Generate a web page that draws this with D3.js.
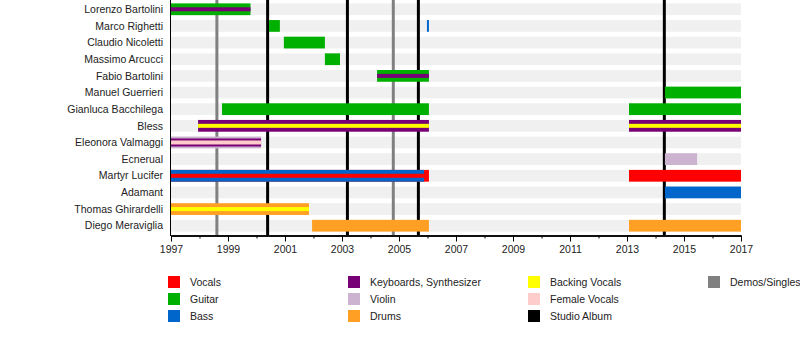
<!DOCTYPE html>
<html lang="en">
<head>
    <meta charset="UTF-8">
    <title>Band members timeline</title>
    <script src="https://d3js.org/d3.v7.min.js"></script>
    <style>
        body {
            margin: 0;
            padding: 0;
            background: #fff;
        }
        svg {
            display: block;
            font-family: "Liberation Sans", Arial, sans-serif;
        }
        .name {
            font-size: 10.5px;
            fill: #222;
            text-anchor: end;
        }
        .axis text {
            font-size: 10.5px;
            fill: #222;
        }
        .legend text {
            font-size: 10.5px;
            fill: #222;
        }
    </style>
</head>
<body>
    <svg id="chart" width="800" height="354"></svg>

    <script>
        const members = [
            "Lorenzo Bartolini", "Marco Righetti", "Claudio Nicoletti", "Massimo Arcucci",
            "Fabio Bartolini", "Manuel Guerrieri", "Gianluca Bacchilega", "Bless",
            "Eleonora Valmaggi", "Ecnerual", "Martyr Lucifer", "Adamant",
            "Thomas Ghirardelli", "Diego Meraviglia"
        ];

        const roles = [
            "Vocals", "Guitar", "Bass",
            "Keyboards, Synthesizer", "Violin", "Drums",
            "Backing Vocals", "Female Vocals", "Studio Album",
            "Demos/Singles"
        ];

        // layer: "bar" = full row, "mid" = narrower overlay, "stripe" = thin overlay
        const segments = [
            { member: "Lorenzo Bartolini", role: "Guitar", start: 1997, end: 1999.79, layer: "bar" },
            { member: "Lorenzo Bartolini", role: "Keyboards, Synthesizer", start: 1997, end: 1999.79, layer: "stripe" },
            { member: "Marco Righetti", role: "Guitar", start: 2000.44, end: 2000.82, layer: "bar" },
            { member: "Marco Righetti", role: "Bass", start: 2005.98, end: 2006.05, layer: "bar" },
            { member: "Claudio Nicoletti", role: "Guitar", start: 2000.96, end: 2002.4, layer: "bar" },
            { member: "Massimo Arcucci", role: "Guitar", start: 2002.4, end: 2002.93, layer: "bar" },
            { member: "Fabio Bartolini", role: "Guitar", start: 2004.23, end: 2006.05, layer: "bar" },
            { member: "Fabio Bartolini", role: "Keyboards, Synthesizer", start: 2004.23, end: 2006.05, layer: "stripe" },
            { member: "Manuel Guerrieri", role: "Guitar", start: 2014.33, end: 2017, layer: "bar" },
            { member: "Gianluca Bacchilega", role: "Guitar", start: 1998.79, end: 2006.05, layer: "bar" },
            { member: "Gianluca Bacchilega", role: "Guitar", start: 2013.07, end: 2017, layer: "bar" },
            { member: "Bless", role: "Keyboards, Synthesizer", start: 1997.95, end: 2006.05, layer: "bar" },
            { member: "Bless", role: "Backing Vocals", start: 1997.95, end: 2006.05, layer: "stripe" },
            { member: "Bless", role: "Keyboards, Synthesizer", start: 2013.07, end: 2017, layer: "bar" },
            { member: "Bless", role: "Backing Vocals", start: 2013.07, end: 2017, layer: "stripe" },
            { member: "Eleonora Valmaggi", role: "Violin", start: 1997, end: 2000.16, layer: "bar" },
            { member: "Eleonora Valmaggi", role: "Keyboards, Synthesizer", start: 1997, end: 2000.16, layer: "mid" },
            { member: "Eleonora Valmaggi", role: "Female Vocals", start: 1997, end: 2000.16, layer: "stripe" },
            { member: "Ecnerual", role: "Violin", start: 2014.33, end: 2015.46, layer: "bar" },
            { member: "Martyr Lucifer", role: "Vocals", start: 1997, end: 2006.05, layer: "bar" },
            { member: "Martyr Lucifer", role: "Bass", start: 1997, end: 2005.88, layer: "bar" },
            { member: "Martyr Lucifer", role: "Vocals", start: 1997, end: 2005.88, layer: "stripe" },
            { member: "Martyr Lucifer", role: "Vocals", start: 2013.07, end: 2017, layer: "bar" },
            { member: "Adamant", role: "Bass", start: 2014.33, end: 2017, layer: "bar" },
            { member: "Thomas Ghirardelli", role: "Drums", start: 1997, end: 2001.84, layer: "bar" },
            { member: "Thomas Ghirardelli", role: "Backing Vocals", start: 1997, end: 2001.84, layer: "stripe" },
            { member: "Diego Meraviglia", role: "Drums", start: 2001.95, end: 2006.05, layer: "bar" },
            { member: "Diego Meraviglia", role: "Drums", start: 2013.07, end: 2017, layer: "bar" }
        ];

        const studioAlbums = [2000.39, 2003.19, 2005.68, 2014.31];
        const demos = [1998.61, 2004.8];

        const years = d3.range(1997, 2018);

        const color = d3.scaleOrdinal()
            .domain(roles)
            .range(["#ff0000", "#00b000", "#0066cc", "#770077", "#ccb3d0", "#ffa024",
                    "#ffff00", "#ffcccc", "#000000", "#808080"]);

        const svg = d3.select("#chart");

        const x = d3.scaleLinear().domain([1997, 2017]).range([171, 741]);
        const y = d3.scaleBand().domain(members).range([-1.5, 236.5]).padding(5 / 17);

        const layerHeight = { bar: y.bandwidth(), mid: 8, stripe: 4 };

        // row backgrounds
        svg.append("g")
            .selectAll("rect")
            .data(members)
            .join("rect")
            .attr("x", x(1997))
            .attr("y", d => y(d))
            .attr("width", x(2017) - x(1997))
            .attr("height", y.bandwidth())
            .attr("fill", "#f0f0f0");

        // album / demo markers
        const markers = demos.map(v => ({ v, role: "Demos/Singles" }))
            .concat(studioAlbums.map(v => ({ v, role: "Studio Album" })));

        svg.append("g")
            .selectAll("line")
            .data(markers)
            .join("line")
            .attr("x1", d => x(d.v))
            .attr("x2", d => x(d.v))
            .attr("y1", 0)
            .attr("y2", 235)
            .attr("stroke", d => color(d.role))
            .attr("stroke-width", 3);

        // member bars
        svg.append("g")
            .selectAll("rect")
            .data(segments)
            .join("rect")
            .attr("x", d => x(d.start))
            .attr("width", d => x(d.end) - x(d.start))
            .attr("y", d => y(d.member) + (y.bandwidth() - layerHeight[d.layer]) / 2)
            .attr("height", d => layerHeight[d.layer])
            .attr("fill", d => color(d.role));

        // names
        svg.append("g")
            .selectAll("text")
            .data(members)
            .join("text")
            .attr("class", "name")
            .attr("x", 163)
            .attr("y", d => y(d) + y.bandwidth() / 2)
            .attr("dy", "0.35em")
            .text(d => d);

        // left axis line
        svg.append("line")
            .attr("x1", 170.5).attr("x2", 170.5)
            .attr("y1", 0).attr("y2", 236)
            .attr("stroke", "#000");

        // bottom axis: minor ticks every year, labels every two years
        svg.append("g")
            .attr("class", "axis")
            .attr("transform", "translate(0,235.5)")
            .call(d3.axisBottom(x).tickValues(years.filter(d => d % 2 === 0))
                .tickSize(3).tickSizeOuter(0).tickFormat(""));

        const major = svg.append("g")
            .attr("class", "axis")
            .attr("transform", "translate(0,235.5)")
            .call(d3.axisBottom(x).tickValues(years.filter(d => d % 2 === 1))
                .tickSize(6).tickSizeOuter(0).tickPadding(4).tickFormat(d3.format("d")));
        svg.selectAll(".axis .domain").attr("stroke-width", 1.5);

        // legend
        const legend = svg.append("g").attr("class", "legend");
        const item = legend.selectAll("g")
            .data(roles)
            .join("g")
            .attr("transform", (d, i) => `translate(${168 + Math.floor(i / 3) * 180},${276 + (i % 3) * 17})`);

        item.append("rect")
            .attr("width", 12)
            .attr("height", 12)
            .attr("fill", d => color(d));

        item.append("text")
            .attr("x", 22)
            .attr("y", 6)
            .attr("dy", "0.35em")
            .text(d => d);
    </script>
</body>
</html>
